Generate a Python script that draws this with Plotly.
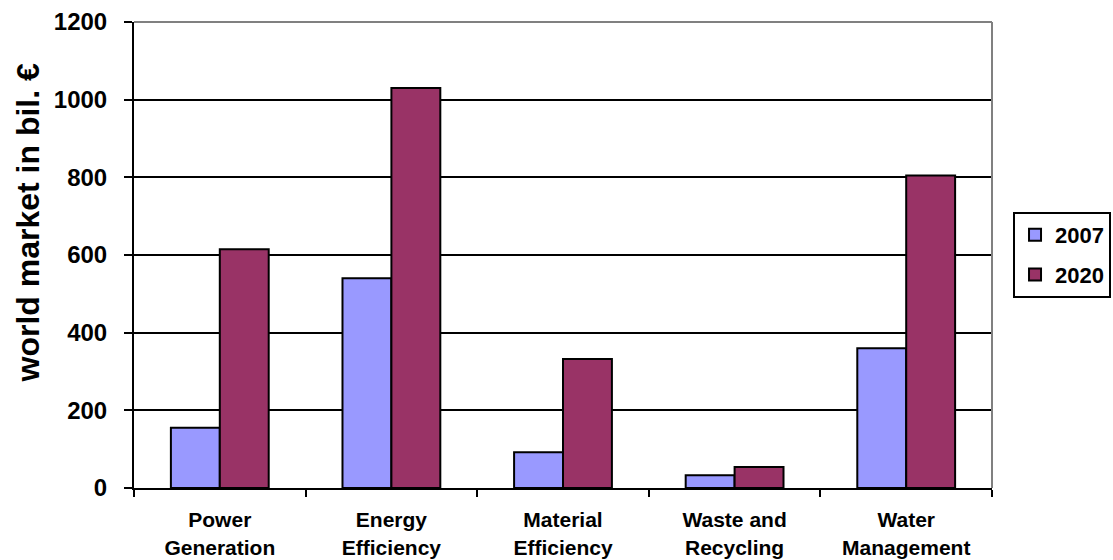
import plotly.graph_objects as go

categories = ["Power<br>Generation", "Energy<br>Efficiency", "Material<br>Efficiency",
              "Waste and<br>Recycling", "Water<br>Management"]
values_2007 = [155, 540, 92, 33, 360]
values_2020 = [615, 1030, 332, 54, 805]
series_names = ["2007", "2020"]
y_ticks = [0, 200, 400, 600, 800, 1000, 1200]
y_title = "world market in bil. €"

FONT = "Liberation Sans, Arial, sans-serif"

fig = go.Figure()
fig.add_trace(go.Bar(x=categories, y=values_2007, name=series_names[0], legendgroup="a",
                     marker=dict(color="#9999FF", line=dict(color="black", width=2))))
fig.add_trace(go.Bar(x=categories, y=values_2020, name=series_names[1], legendgroup="b",
                     marker=dict(color="#993366", line=dict(color="black", width=2))))

fig.update_layout(
    width=1113, height=560,
    margin=dict(l=134, r=121, t=22, b=72, autoexpand=False),
    paper_bgcolor="white", plot_bgcolor="white",
    barmode="group", bargap=0.43, bargroupgap=0,
    font=dict(family=FONT, color="black", size=20, weight="bold"),
    legend=dict(x=1.0245, xanchor="left", y=0.5, yanchor="middle",
                bordercolor="black", borderwidth=2, bgcolor="white",
                font=dict(family=FONT, size=22, color="black", weight="bold"),
                itemwidth=30, tracegroupgap=8),
    showlegend=True,
)
fig.update_xaxes(
    type="category", tickson="boundaries", ticks="outside", ticklen=7,
    tickwidth=2, tickcolor="black", showline=True, linecolor="black", linewidth=2,
    showgrid=False, tickfont=dict(family=FONT, size=21, color="black", weight="bold"),
    ticklabelstandoff=12,
)
fig.update_yaxes(
    range=[0, 1200], tickvals=y_ticks, ticks="outside", ticklen=8, tickwidth=2,
    tickcolor="black", showline=True, linecolor="black", linewidth=2,
    showgrid=True, gridcolor="black", gridwidth=2, zeroline=False,
    tickfont=dict(family=FONT, size=24, color="black", weight="bold"),
    ticklabelstandoff=12,
)
# y-axis title placed as in the original (slightly above the plot centre)
fig.add_annotation(text=y_title, textangle=-90, xref="paper", yref="paper",
                   x=-0.124, y=0.569, xanchor="center", yanchor="middle",
                   showarrow=False,
                   font=dict(family=FONT, size=32, color="black", weight="bold"))
# plot-area border on top and right (grey, as in the original)
fig.add_shape(type="line", xref="paper", yref="paper", x0=0, x1=1, y0=1, y1=1,
              line=dict(color="#808080", width=2))
fig.add_shape(type="line", xref="paper", yref="paper", x0=1, x1=1, y0=0, y1=1,
              line=dict(color="#808080", width=2))

fig.write_html("out.html")
